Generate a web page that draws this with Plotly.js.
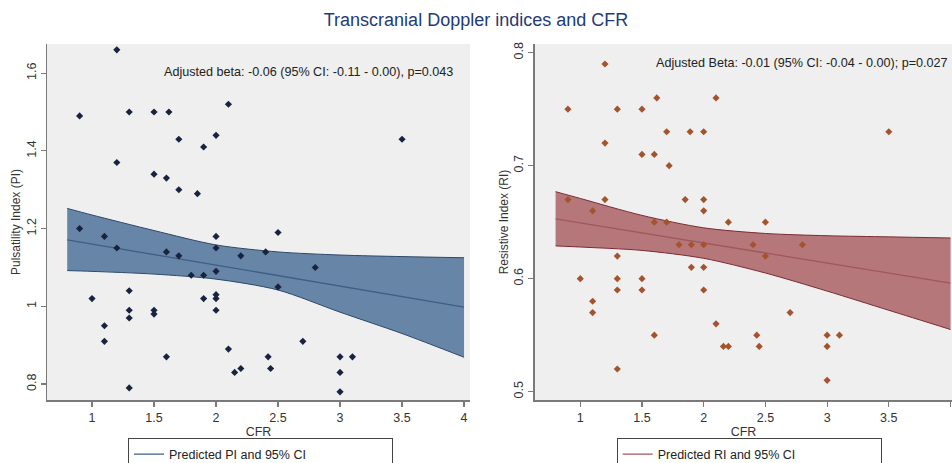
<!DOCTYPE html>
<html>
<head>
<meta charset="utf-8">
<script src="https://cdn.plot.ly/plotly-3.0.1.min.js"></script>
<style>html,body{margin:0;padding:0;background:#fff;}#chart{width:952px;height:463px;}</style>
</head>
<body>
<div id="chart"></div>
<script>
// Pulsatility index vs CFR
const piCFR = [0.9,0.9,1.0,1.1,1.1,1.1,1.2,1.2,1.2,1.3,1.3,1.3,1.3,1.3,1.5,1.5,1.5,1.5,1.62,1.6,1.6,1.6,1.7,1.7,1.7,1.8,1.85,1.9,1.9,1.9,2.0,2.0,2.0,2.0,2.0,2.0,2.0,2.1,2.1,2.15,2.2,2.2,2.4,2.42,2.44,2.5,2.5,2.7,2.8,3.0,3.0,3.0,3.1,3.5];
const piVal = [1.49,1.20,1.02,1.18,0.95,0.91,1.66,1.37,1.15,1.50,1.04,0.99,0.97,0.79,1.50,1.34,0.99,0.98,1.50,1.33,1.14,0.87,1.43,1.30,1.13,1.08,1.29,1.41,1.08,1.02,1.44,1.18,1.15,1.09,1.03,1.02,0.99,1.52,0.89,0.83,1.13,0.84,1.14,0.87,0.84,1.19,1.05,0.91,1.10,0.87,0.83,0.78,0.87,1.43];
// Resistive index vs CFR
const riCFR = [0.9,0.9,1.0,1.1,1.1,1.1,1.2,1.2,1.2,1.3,1.3,1.3,1.3,1.3,1.5,1.5,1.5,1.5,1.6,1.6,1.6,1.62,1.7,1.7,1.72,1.8,1.85,1.89,1.9,1.9,2.0,2.0,2.0,2.0,2.0,2.0,2.1,2.1,2.16,2.2,2.2,2.4,2.43,2.45,2.5,2.5,2.7,2.8,3.0,3.0,3.0,3.1,3.5];
const riVal = [0.75,0.67,0.60,0.66,0.58,0.57,0.79,0.72,0.67,0.75,0.62,0.60,0.59,0.52,0.75,0.71,0.60,0.59,0.71,0.65,0.55,0.76,0.73,0.65,0.70,0.63,0.67,0.73,0.63,0.61,0.73,0.67,0.66,0.63,0.61,0.59,0.76,0.56,0.54,0.65,0.54,0.63,0.55,0.54,0.65,0.62,0.57,0.63,0.55,0.54,0.51,0.55,0.73];
// Predicted values and 95% CI bands
const bandCFR = [0.8,1.0,1.5,2.0,2.5,3.0,3.5,4.0];
const piUpper = [1.252,1.235,1.195,1.158,1.140,1.132,1.128,1.125];
const piLower = [1.092,1.090,1.083,1.070,1.042,0.985,0.930,0.869];
const riUpper = [0.677,0.671,0.656,0.645,0.640,0.638,0.637,0.636];
const riLower = [0.629,0.628,0.625,0.618,0.605,0.589,0.572,0.555];
const fitCFR = [0.8,4.0];
const piFit = [1.171,0.998];
const riFit = [0.653,0.596];
const xTicks = [1,1.5,2,2.5,3,3.5,4];
const xTickText = ['1','1.5','2','2.5','3','3.5','4'];
const piTicks = [0.8,1,1.2,1.4,1.6];
const piTickText = ['0.8','1','1.2','1.4','1.6'];
const riTicks = [0.5,0.6,0.7,0.8];
const riTickText = ['0.5','0.6','0.7','0.8'];
const titleText = 'Transcranial Doppler indices and CFR';
const piNote = 'Adjusted beta: -0.06 (95% CI: -0.11 - 0.00), p=0.043';
const riNote = 'Adjusted Beta: -0.01 (95% CI: -0.04 - 0.00); p=0.027';

const FONT = 'Liberation Sans, Arial, Helvetica, sans-serif';
const blueFill = '#6786a7', blueEdge = '#2c4868', blueDot = '#18233f';
const redFill = '#b5777a', redEdge = '#7c2a33', redDot = '#a4532d';

const traces = [
  {x: bandCFR, y: piLower, xaxis:'x', yaxis:'y', mode:'lines', line:{color:blueEdge, width:1, shape:'spline', smoothing:0.8}, showlegend:false, hoverinfo:'skip'},
  {x: bandCFR, y: piUpper, xaxis:'x', yaxis:'y', mode:'lines', fill:'tonexty', fillcolor:blueFill, line:{color:blueEdge, width:1, shape:'spline', smoothing:0.8}, showlegend:false, hoverinfo:'skip'},
  {x: fitCFR, y: piFit, xaxis:'x', yaxis:'y', mode:'lines', line:{color:'#3d5f86', width:1.3}, name:'Predicted PI and 95% CI', legend:'legend', showlegend:true},
  {x: piCFR, y: piVal, xaxis:'x', yaxis:'y', mode:'markers', marker:{symbol:'diamond', size:5.5, color:blueDot}, showlegend:false},
  {x: bandCFR, y: riLower, xaxis:'x2', yaxis:'y2', mode:'lines', line:{color:redEdge, width:1, shape:'spline', smoothing:0.8}, showlegend:false, hoverinfo:'skip'},
  {x: bandCFR, y: riUpper, xaxis:'x2', yaxis:'y2', mode:'lines', fill:'tonexty', fillcolor:redFill, line:{color:redEdge, width:1, shape:'spline', smoothing:0.8}, showlegend:false, hoverinfo:'skip'},
  {x: fitCFR, y: riFit, xaxis:'x2', yaxis:'y2', mode:'lines', line:{color:'#a0585c', width:1.3}, name:'Predicted RI and 95% CI', legend:'legend2', showlegend:true},
  {x: riCFR, y: riVal, xaxis:'x2', yaxis:'y2', mode:'markers', marker:{symbol:'diamond', size:5.5, color:redDot}, showlegend:false}
];

const axisCommon = {
  showgrid:false, zeroline:false, showline:true, linecolor:'#7a7a7a', linewidth:1.5,
  ticks:'outside', ticklen:5, tickwidth:1.2, tickcolor:'#7a7a7a',
  tickfont:{family:FONT, size:12.5, color:'#333'}, automargin:false
};

const layout = {
  width:952, height:463,
  paper_bgcolor:'#ffffff', plot_bgcolor:'#efefef',
  margin:{l:47, r:0, t:44, b:63, autoexpand:false},
  font:{family:FONT, color:'#333'},
  title:{text:titleText, font:{family:FONT, size:18, color:'#1f3b78'}, x:0.5, xref:'container', y:0.958, yref:'container', yanchor:'middle'},
  xaxis: Object.assign({}, axisCommon, {domain:[0,0.4674], range:[0.637,4.048], tickvals:xTicks, ticktext:xTickText, anchor:'y',
    title:{text:'CFR', font:{family:FONT, size:12.5, color:'#333'}, standoff:3}}),
  yaxis: Object.assign({}, axisCommon, {domain:[0,1], range:[0.759,1.675], tickvals:piTicks, ticktext:piTickText, tickangle:-90, anchor:'x',
    title:{text:'Pulsatility Index (PI)', font:{family:FONT, size:12, color:'#333'}, standoff:1}}),
  xaxis2: Object.assign({}, axisCommon, {domain:[0.5392,1], range:[0.633,4.012], tickvals:xTicks, ticktext:xTickText, anchor:'y2',
    title:{text:'CFR', font:{family:FONT, size:12.5, color:'#333'}, standoff:3}}),
  yaxis2: Object.assign({}, axisCommon, {domain:[0,1], range:[0.4926,0.8077], tickvals:riTicks, ticktext:riTickText, tickangle:-90, anchor:'x2',
    title:{text:'Resistive Index (RI)', font:{family:FONT, size:12, color:'#333'}, standoff:1}}),
  legend:{x:0.0895, y:-0.108, xanchor:'left', yanchor:'top', orientation:'h', entrywidth:218, bgcolor:'#ffffff', bordercolor:'#444', borderwidth:1, font:{family:FONT, size:12.5, color:'#222'}},
  legend2:{x:0.6295, y:-0.108, xanchor:'left', yanchor:'top', orientation:'h', entrywidth:218, bgcolor:'#ffffff', bordercolor:'#444', borderwidth:1, font:{family:FONT, size:12.5, color:'#222'}},
  annotations:[
    {text:piNote, xref:'x domain', yref:'y domain', x:0.9645, y:0.921, xanchor:'right', yanchor:'middle', showarrow:false, font:{family:FONT, size:12.6, color:'#222'}},
    {text:riNote, xref:'x2 domain', yref:'y2 domain', x:0.9945, y:0.946, xanchor:'right', yanchor:'middle', showarrow:false, font:{family:FONT, size:12.6, color:'#222'}}
  ],
  showlegend:true
};

Plotly.newPlot('chart', traces, layout, {staticPlot:true, displayModeBar:false});
</script>
</body>
</html>
